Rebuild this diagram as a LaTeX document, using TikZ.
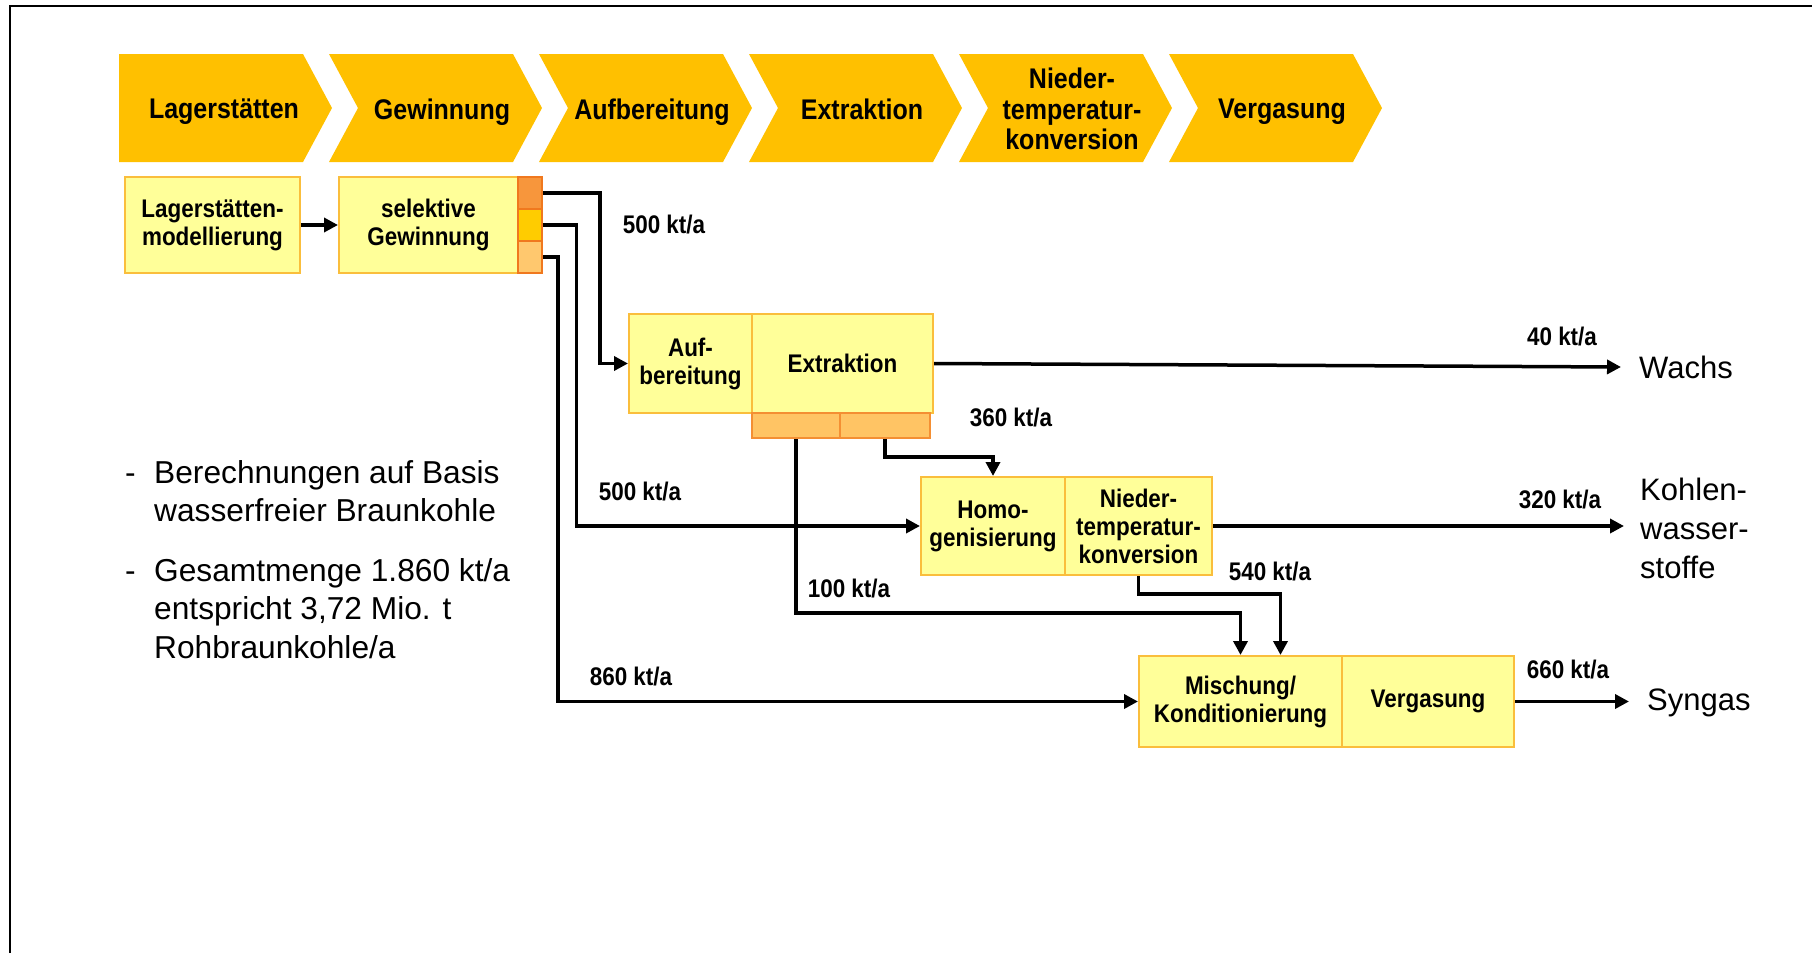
\documentclass[tikz,border=0pt]{standalone}
\usepackage{fontspec}
\setmainfont{Liberation Sans}
\newfontfamily\cnd[FakeStretch=0.88]{Liberation Sans}
\usetikzlibrary{arrows.meta}
\definecolor{chev}{RGB}{255,192,0}
\definecolor{boxfill}{RGB}{255,255,153}
\definecolor{boxborder}{RGB}{250,190,60}
\definecolor{sqA}{RGB}{247,150,60}
\definecolor{sqB}{RGB}{255,204,0}
\definecolor{sqC}{RGB}{255,200,110}
\definecolor{sqborder}{RGB}{240,120,30}
\definecolor{esq}{RGB}{255,196,100}
\newcommand\bxfont{\cnd\bfseries\fontsize{25.5}{28}\selectfont}
\newcommand\chfont{\cnd\bfseries\fontsize{28.4}{30.6}\selectfont}
\newcommand\rgfont{\fontsize{31}{39}\selectfont}
\newcommand\ntfont{\fontsize{31.7}{38.7}\selectfont}
\newcommand\chevfirst[3]{%
  \fill[chev] (#1,54) -- (#1+184,54) -- (#1+213,108) -- (#1+184,162) -- (#1,162) -- cycle;
  \node[chtext] (#2) at (#1+105,109) {#3};}
\newcommand\chevron[3]{%
  \fill[chev] (#1,54) -- (#1+184,54) -- (#1+213,108) -- (#1+184,162) -- (#1,162) -- (#1+29,108) -- cycle;
  \node[chtext] (#2) at (#1+113,109) {#3};}
\begin{document}
\begin{tikzpicture}[x=1pt,y=-1pt,
  flow/.style={line width=3.5pt,-{Triangle[length=14pt,width=14pt]}},
  box/.style={draw=boxborder,line width=2pt,fill=boxfill,inner sep=0pt,align=center,font=\bxfont},
  sq/.style={draw=sqborder,line width=1.5pt,minimum width=24,minimum height=32,inner sep=0pt},
  esqbox/.style={draw=sqborder!70!esq,line width=1.5pt,fill=esq,minimum height=25,inner sep=0pt},
  chtext/.style={align=center,font=\chfont,inner sep=0pt,text depth=0pt},
  lbl/.style={font=\bxfont,inner sep=0pt},
  rg/.style={font=\rgfont,inner sep=0pt,align=left},
  nt/.style={font=\ntfont,inner sep=0pt,align=left}]
\useasboundingbox (0,0) rectangle (1812,953);
\draw[line width=2.5pt] (10,953) -- (10,6) -- (1812,6);

% process chevrons
\chevfirst{119}{c1}{Lagerstätten}
\chevron{329}{c2}{Gewinnung}
\chevron{539}{c3}{Aufbereitung}
\chevron{749}{c4}{Extraktion}
\chevron{959}{c5}{Nieder-\\temperatur-\\konversion}
\chevron{1169}{c6}{Vergasung}

% boxes
\node[box,minimum width=175,minimum height=96] (lm) at (212.5,225) {Lagerstätten-\\modellierung};
\node[box,minimum width=179,minimum height=96] (sg) at (428.5,225) {selektive\\Gewinnung};
\node[sq,fill=sqA] (s1) at (530,193) {};
\node[sq,fill=sqB] (s2) at (530,225) {};
\node[sq,fill=sqC] (s3) at (530,257) {};

\node[box,minimum width=123,minimum height=99] (auf) at (690.5,363.5) {Auf-\\bereitung};
\node[box,minimum width=181,minimum height=99] (ext) at (842.5,363.5) {Extraktion};
\node[esqbox,minimum width=88] (e1) at (796,425.5) {};
\node[esqbox,minimum width=90] (e2) at (885,425.5) {};

\node[box,minimum width=144,minimum height=98] (homo) at (993,526) {Homo-\\genisierung};
\node[box,minimum width=147,minimum height=98] (nied) at (1138.5,526) {Nieder-\\temperatur-\\konversion};

\node[box,minimum width=203,minimum height=91] (misch) at (1240.5,701.5) {Mischung/\\Konditionierung};
\node[box,minimum width=172,minimum height=91] (verg) at (1428,701.5) {Vergasung};

% product labels
\node[rg,anchor=west] (wachs) at (1639,367) {Wachs};
\node[rg,anchor=north west] (kohlen) at (1640,478) {Kohlen-\\wasser-\\stoffe};
\node[rg,anchor=west] (syngas) at (1647,703) {Syngas};
\coordinate (wachsend) at (1621,367);
\coordinate (kohlend) at (1624,526);
\coordinate (syngend) at (1629,701.5);

% flow labels
\node[lbl] (l1) at (664,225) {500 kt/a};
\node[lbl] (l2) at (640,492) {500 kt/a};
\node[lbl] (l3) at (631,677) {860 kt/a};
\node[lbl] (l4) at (1011,418) {360 kt/a};
\node[lbl] (l5) at (849,589) {100 kt/a};
\node[lbl] (l6) at (1270,572) {540 kt/a};
\node[lbl] (l7) at (1562,337) {40 kt/a};
\node[lbl] (l8) at (1560,500) {320 kt/a};
\node[lbl] (l9) at (1568,670) {660 kt/a};

% connectors
\draw[flow] (lm) -- (sg);
\draw[flow] (s1.east) -- ++(57,0) |- (auf.west);
\draw[flow] (s2.east) -- ++(33.5,0) |- (homo.west);
\draw[flow] (s3.east) -- ++(15,0) |- (misch.west);
\draw[flow] (e2.south) -- ++(0,18) -| (homo.north);
\draw[flow] (e1.south) -- ++(0,174) -| (misch.north);
\draw[flow] (nied.south) -- ++(0,18) -| ([xshift=40pt]misch.north);
\draw[flow] (ext.east) -- (wachsend);
\draw[flow] (nied.east) -- (kohlend);
\draw[flow] (verg.east) -- (syngend);

% notes
\node[nt,anchor=base west] (d1) at (125,483) {-};
\node[nt,anchor=north west] (b1) at (154,460) {Berechnungen auf Basis\\wasserfreier Braunkohle};
\node[nt,anchor=base west] (d2) at (125,581) {-};
\node[nt,anchor=north west] (b2) at (154,558) {Gesamtmenge 1.860 kt/a\\entspricht 3,72 Mio. t\\Rohbraunkohle/a};
\end{tikzpicture}
\end{document}
